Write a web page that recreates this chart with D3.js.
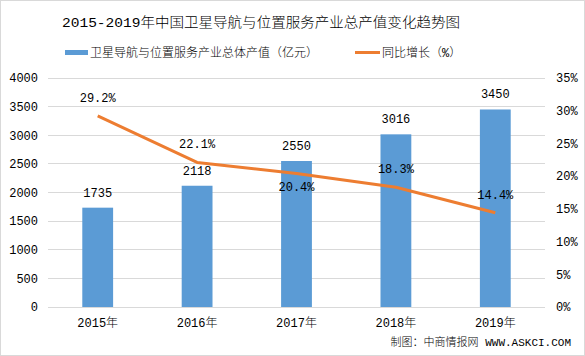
<!DOCTYPE html>
<html><head><meta charset="utf-8">
<script src="https://cdn.jsdelivr.net/npm/d3@7"></script>
<style>body{margin:0;background:#fff}svg{display:block}text{font-family:"Liberation Mono","Noto Sans CJK SC",monospace;font-weight:300}</style>
</head><body>
<script>
const years = ["2015年","2016年","2017年","2018年","2019年"];
const outputValues = [1735, 2118, 2550, 3016, 3450];
const growthRates = [29.2, 22.1, 20.4, 18.3, 14.4];
const leftTicks = [0,500,1000,1500,2000,2500,3000,3500,4000];
const rightTicks = [0,5,10,15,20,25,30,35];
const title = "2015-2019年中国卫星导航与位置服务产业总产值变化趋势图";
const seriesNames = ["卫星导航与位置服务产业总体产值（亿元）","同比增长（%）"];
const source = "制图：中商情报网 WWW.ASKCI.COM";

const W=585,H=356;
const m={l:48,r:40,t:78,b:49};
const svg=d3.select("body").append("svg").attr("width",W).attr("height",H);
svg.append("rect").attr("x",0.5).attr("y",0.5).attr("width",W-1).attr("height",H-1).attr("fill","#fff").attr("stroke","#d9d9d9");

const x=d3.scaleBand().domain(years).range([m.l,W-m.r]).paddingInner(0.69).paddingOuter(0.345);
const y=d3.scaleLinear().domain([0,4000]).range([H-m.b,m.t]);
const y2=d3.scaleLinear().domain([0,35]).range([H-m.b,m.t]);

// grid
svg.append("g").selectAll("line").data(leftTicks).join("line")
 .attr("x1",m.l).attr("x2",W-m.r).attr("y1",d=>y(d)).attr("y2",d=>y(d))
 .attr("stroke","#d9d9d9").attr("stroke-width",1).attr("shape-rendering","crispEdges");

// left axis
const la=svg.append("g").attr("transform",`translate(${m.l},0)`).call(d3.axisLeft(y).tickValues(leftTicks).tickSize(0).tickPadding(10).tickFormat(d=>String(d)));
la.select(".domain").remove();
la.selectAll("text").attr("font-size",12).attr("fill","#000");
// right axis
const ra=svg.append("g").attr("transform",`translate(${W-m.r},0)`).call(d3.axisRight(y2).tickValues(rightTicks).tickSize(0).tickPadding(11).tickFormat(d=>d+"%"));
ra.select(".domain").remove();
ra.selectAll("text").attr("font-size",12).attr("fill","#000");
// bottom axis
const ba=svg.append("g").attr("transform",`translate(0,${H-m.b})`).call(d3.axisBottom(x).tickSize(0).tickPadding(11));
ba.select(".domain").remove();
ba.selectAll("text").attr("font-size",12).attr("fill","#000");

// bars
svg.append("g").selectAll("rect").data(outputValues).join("rect")
 .attr("x",(d,i)=>x(years[i])).attr("width",x.bandwidth())
 .attr("y",d=>y(d)).attr("height",d=>y(0)-y(d)).attr("fill","#5B9BD5");
svg.append("g").selectAll("text").data(outputValues).join("text")
 .attr("x",(d,i)=>x(years[i])+x.bandwidth()/2).attr("y",d=>y(d)-11)
 .attr("text-anchor","middle").attr("font-size",12).text(d=>d);

// line
const line=d3.line().x((d,i)=>x(years[i])+x.bandwidth()/2).y(d=>y2(d));
svg.append("path").datum(growthRates).attr("d",line).attr("fill","none").attr("stroke","#ED7D31").attr("stroke-width",3).attr("stroke-linejoin","round");
svg.append("g").selectAll("text").data(growthRates).join("text")
 .attr("x",(d,i)=>x(years[i])+x.bandwidth()/2)
 .attr("y",(d,i)=>i===2? y2(d)+17 : y2(d)-14)
 .attr("text-anchor","middle").attr("font-size",12).text(d=>d.toFixed(1)+"%");

// title
svg.append("text").attr("x",62).attr("y",27).attr("text-anchor","start").attr("font-size",13.5)
 .attr("textLength",398).attr("lengthAdjust","spacingAndGlyphs").text(title);
// legend
const lg=svg.append("g");
lg.append("rect").attr("x",65).attr("y",50).attr("width",23).attr("height",5).attr("fill","#5B9BD5");
lg.append("text").attr("x",90).attr("y",57).attr("font-size",12).text(seriesNames[0]);
lg.append("line").attr("x1",355).attr("x2",380).attr("y1",52.5).attr("y2",52.5).attr("stroke","#ED7D31").attr("stroke-width",3);
lg.append("text").attr("x",382).attr("y",57).attr("font-size",12).text(seriesNames[1]);
// source
svg.append("text").attr("x",571).attr("y",346).attr("text-anchor","end").attr("font-size",11).text(source);
</script>
</body></html>
